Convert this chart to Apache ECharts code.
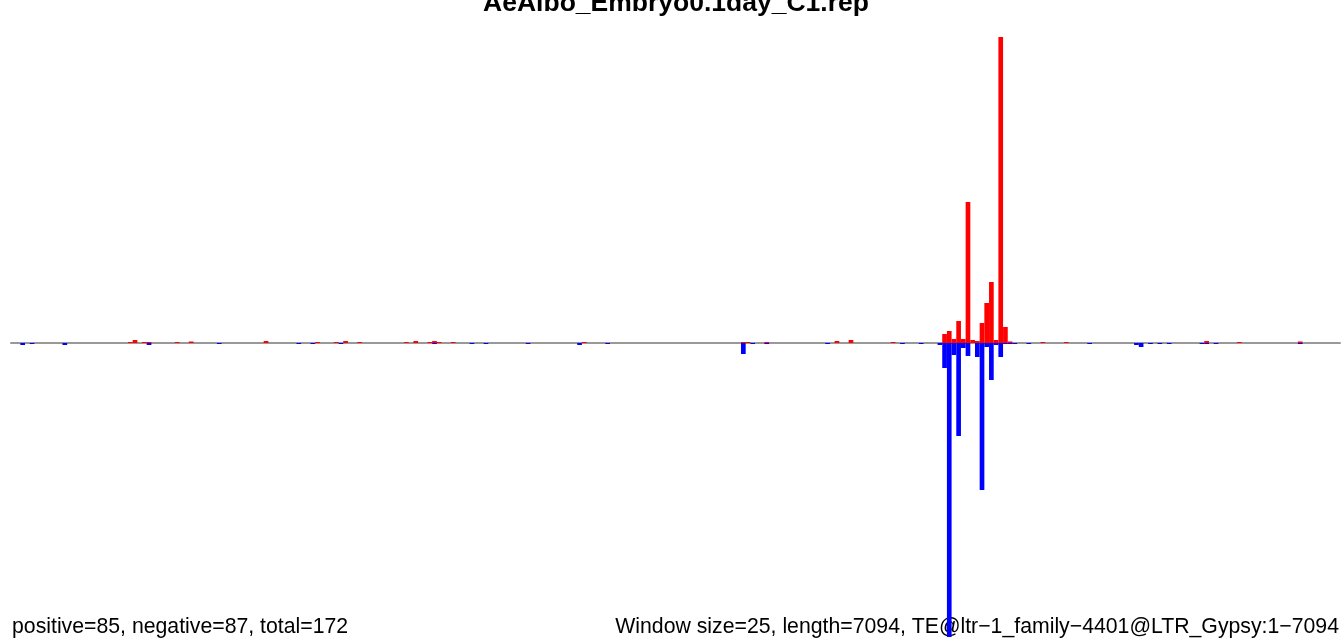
<!DOCTYPE html>
<html>
<head>
<meta charset="utf-8">
<script src="https://cdn.jsdelivr.net/npm/echarts@6/dist/echarts.min.js"></script>
<style>
html,body{margin:0;padding:0;background:#fff;}
#chart{width:1341px;height:641px;}
</style>
</head>
<body>
<div id="chart"></div>
<script>
// ---- data ----
const titleText = "AeAlbo_Embryo0.1day_C1.rep";
const windowSize = 25;
const seqLength = 7094;
const nWindows = 284;
const positiveReads = 85;
const negativeReads = 87;
const totalReads = 172;
const teName = "TE@ltr\u22121_family\u22124401@LTR_Gypsy:1\u22127094";

// sense (red, above axis): window index and signal
const posWindows = [25, 26, 28, 29, 35, 38, 54, 65, 69, 71, 74, 84, 86, 89, 90, 91, 94, 122, 156, 157, 161, 176, 179, 188,
  199, 200, 201, 202, 203, 204, 205, 206, 207, 208, 209, 210, 211, 212, 213, 220, 225, 255, 262, 275];
const posValues = [1, 3, 1, 1, 1, 1.5, 2, 1, 1, 2, 1, 1, 2, 1, 2, 1, 1, 1, 1, 1, 1, 2, 3, 1,
  9, 12, 4, 22, 4, 141, 3, 2, 20, 40, 61, 3, 306, 16, 1.5, 1, 1, 2, 1, 1.5];

// antisense (blue, below axis): window index and signal
const negWindows = [2, 4, 11, 29, 44, 61, 64, 70, 90, 98, 101, 110, 121, 127, 156, 158, 161, 174, 190, 194, 198,
  199, 200, 201, 202, 203, 204, 206, 207, 208, 209, 210, 211, 212, 213, 214, 217, 230, 240, 241, 243, 245, 247, 254, 255, 257, 275];
const negValues = [2, 1, 2, 2, 1, 1, 1, 1, 1, 1, 1, 1, 2, 1, 11, 1, 1, 1, 1, 1, 2,
  25, 294, 12, 93, 5, 13, 14, 147, 4, 37, 2, 14, 1, 1, 1, 1, 1, 2, 4, 1, 1, 1, 1, 1, 1, 1];

// ---- build ----
const categories = [];
for (let i = 0; i < nWindows; i++) categories.push(String(i * windowSize + 1));
const posData = new Array(nWindows).fill(0);
const negData = new Array(nWindows).fill(0);
posWindows.forEach((w, i) => { posData[w] = posValues[i]; });
negWindows.forEach((w, i) => { negData[w] = -negValues[i]; });
const yMax = Math.max(...posValues);
const yMin = -Math.max(...negValues);

const chart = echarts.init(document.getElementById('chart'), null, {renderer: 'canvas'});
chart.setOption({
  animation: false,
  backgroundColor: '#ffffff',
  grid: {left: 11, right: 1, top: 37, bottom: 4, containLabel: false},
  xAxis: {
    type: 'category',
    data: categories,
    boundaryGap: true,
    axisLine: {show: true, onZero: true, lineStyle: {color: '#999999', width: 2}},
    axisTick: {show: false},
    axisLabel: {show: false},
    splitLine: {show: false}
  },
  yAxis: {
    type: 'value',
    min: yMin,
    max: yMax,
    show: false,
    splitLine: {show: false}
  },
  series: [
    {
      type: 'bar', name: 'positive', data: posData,
      barWidth: '100%', barGap: '-100%', barCategoryGap: '0%',
      itemStyle: {color: '#ff0000'}, z: 3
    },
    {
      type: 'bar', name: 'negative', data: negData,
      barWidth: '100%', barGap: '-100%', barCategoryGap: '0%',
      itemStyle: {color: '#0000ff'}, z: 3
    }
  ],
  graphic: [
    {type: 'text', x: 676, y: 3.5, z: 1,
     style: {text: titleText, font: 'bold 26.5px "Liberation Sans", Arial, sans-serif', fill: '#000',
             textAlign: 'center', textVerticalAlign: 'middle'}},
    {type: 'text', x: 12, y: 627.5, z: 1,
     style: {text: 'positive=' + positiveReads + ', negative=' + negativeReads + ', total=' + totalReads,
             font: '21.25px "Liberation Sans", Arial, sans-serif', fill: '#000',
             textAlign: 'left', textVerticalAlign: 'middle'}},
    {type: 'text', x: 1339, y: 627.5, z: 1,
     style: {text: 'Window size=' + windowSize + ', length=' + seqLength + ', ' + teName,
             font: '21.25px "Liberation Sans", Arial, sans-serif', fill: '#000',
             textAlign: 'right', textVerticalAlign: 'middle'}}
  ]
});
</script>
</body>
</html>
